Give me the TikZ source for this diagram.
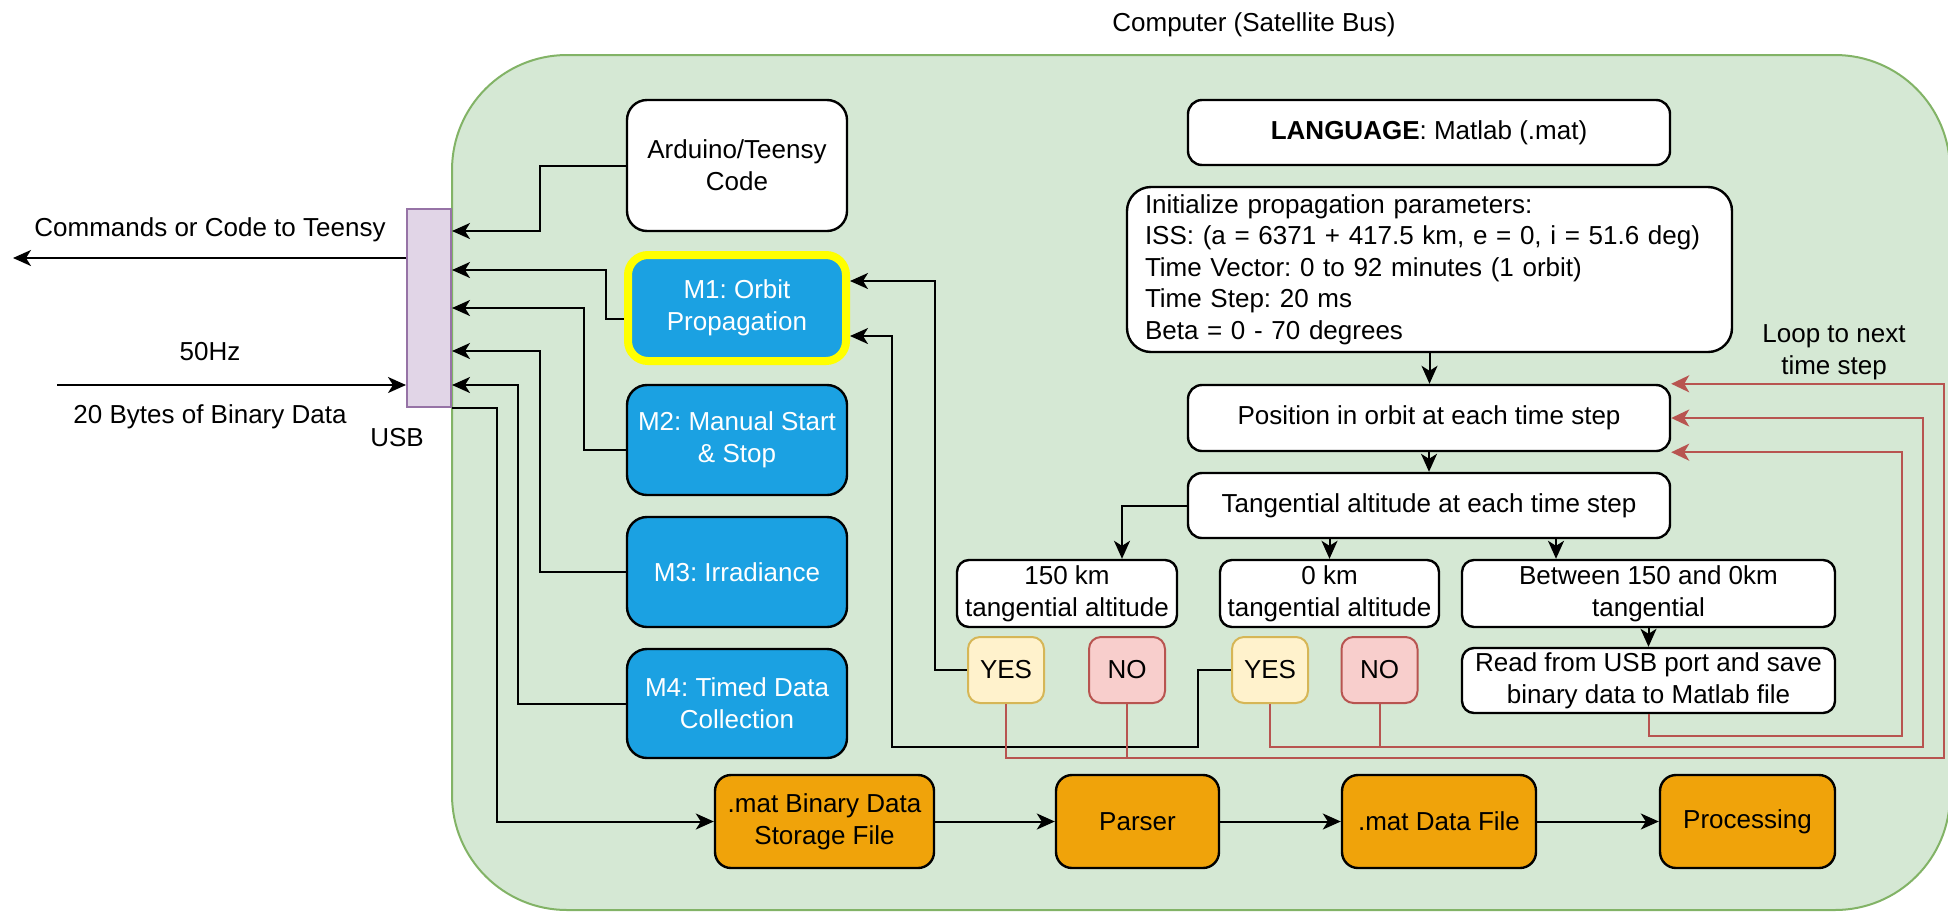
\documentclass[tikz,border=0pt]{standalone}
\usepackage{fontspec}
\setmainfont{Liberation Sans}
\usetikzlibrary{arrows.meta}
\frenchspacing

\definecolor{busfill}{HTML}{D5E8D4}
\definecolor{busline}{HTML}{82B366}
\definecolor{usbfill}{HTML}{E1D5E7}
\definecolor{usbline}{HTML}{9673A6}
\definecolor{modeblue}{HTML}{1BA1E2}
\definecolor{storeorange}{HTML}{F0A30A}
\definecolor{yesfill}{HTML}{FFF2CC}
\definecolor{yesline}{HTML}{D6B656}
\definecolor{nofill}{HTML}{F8CECC}
\definecolor{loopred}{HTML}{B85450}
\definecolor{highlight}{HTML}{FFFF00}

\begin{document}
\begin{tikzpicture}[
  x=0.5pt, y=-0.5pt,
  font=\fontsize{13}{16}\selectfont,
  box/.style={draw=black, line width=1.2pt, fill=white, rounded corners=8pt,
              inner sep=2pt, align=center},
  mode/.style={box, fill=modeblue, text=white, rounded corners=10pt,
               minimum width=110pt, minimum height=55pt},
  store/.style={box, fill=storeorange, minimum height=46.5pt, rounded corners=8pt},
  flowbox/.style={box, minimum width=241pt, minimum height=33pt, rounded corners=7pt},
  altbox/.style={box, minimum height=33.5pt, rounded corners=6pt},
  yesbox/.style={box, fill=yesfill, draw=yesline, line width=1pt,
                 minimum width=38pt, minimum height=33pt, rounded corners=6pt},
  nobox/.style={box, fill=nofill, draw=loopred, line width=1pt,
                minimum width=38pt, minimum height=33pt, rounded corners=6pt},
  conn/.style={line width=1pt, draw=black},
  arr/.style={conn, -{Stealth[length=9pt, width=8pt, inset=2.5pt]}},
  loopline/.style={line width=1pt, draw=loopred},
  looparr/.style={loopline, -{Stealth[length=9pt, width=8.5pt, inset=2.5pt]}},
  lbl/.style={inner sep=0pt, align=center}
]
\useasboundingbox (0,0) rectangle (1948,911);

% computer enclosure
\node[draw=busline, fill=busfill, line width=1pt, rounded corners=57.5pt,
      minimum width=749pt, minimum height=427.5pt, inner sep=0pt] (bus) at (1201,482.5) {};
\node[lbl] (title) at (1254,25) {Computer (Satellite Bus)};

% USB port
\node[draw=usbline, fill=usbfill, line width=1pt, minimum width=22pt,
      minimum height=99pt, inner sep=0pt] (usb) at (429,308) {};
\node[lbl] (usblbl) at (397,438) {USB};

% external link labels
\node[lbl] (cmdlbl) at (210,230) {Commands or Code to Teensy};
\node[lbl] (hzlbl) at (210,352) {50Hz};
\node[lbl] (byteslbl) at (210,417) {20 Bytes of Binary Data};
\coordinate (teensy) at (13,258);
\coordinate (sensor) at (57,385);

% modes
\node[box, rounded corners=10pt, minimum width=110pt, minimum height=65.5pt] (ard) at (737,165.5) {Arduino/Teensy\\Code};
\node[mode, draw=highlight, line width=4pt, minimum width=109pt, minimum height=53pt] (m1) at (737,308) {M1: Orbit\\Propagation};
\node[mode] (m2) at (737,440) {M2: Manual Start\\\& Stop};
\node[mode] (m3) at (737,572) {M3: Irradiance};
\node[mode, minimum height=54.5pt] (m4) at (737,703.5) {M4: Timed Data\\Collection};

% propagation flow
\node[flowbox, minimum height=32.5pt] (lang) at (1429,132.5) {\textbf{LANGUAGE}: Matlab (.mat)};
\node[box, rounded corners=12pt, minimum width=302.5pt, minimum height=82.5pt,
      text width=284.5pt, inner xsep=9pt, inner ysep=0pt, align=left,
      font=\fontsize{13}{15.75}\selectfont] (init) at (1429.5,269.5)
  {Initialize propagation parameters:\\
   ISS: (a = 6371 + 417.5 km, e = 0, i = 51.6 deg)\\
   Time Vector: 0 to 92 minutes (1 orbit)\\
   Time Step: 20 ms\\
   Beta = 0 - 70 degrees};
\node[flowbox] (pos) at (1429,418) {Position in orbit at each time step};
\node[flowbox, minimum height=32.5pt] (tang) at (1429,505.5) {Tangential altitude at each time step};
\node[altbox, minimum width=110pt] (km150) at (1067,593.5) {150 km\\tangential altitude};
\node[altbox, minimum width=109.5pt] (km0) at (1329.5,593.5) {0 km\\tangential altitude};
\node[altbox, minimum width=186.5pt] (between) at (1648.5,593.5) {Between 150 and 0km\\tangential};
\node[altbox, minimum width=186.5pt, minimum height=32.5pt] (read) at (1648.5,680.5) {Read from USB port and save\\binary data to Matlab file};
\node[yesbox] (yes1) at (1006,670) {YES};
\node[nobox] (no1) at (1127,670) {NO};
\node[yesbox] (yes2) at (1270,670) {YES};
\node[nobox] (no2) at (1379.5,670) {NO};
\node[lbl] (looplbl) at (1834,352) {Loop to next\\time step};

% data pipeline
\node[store, minimum width=109.5pt] (binfile) at (824.5,821.5) {.mat Binary Data\\Storage File};
\node[store, minimum width=81.5pt] (parser) at (1137.5,821.5) {Parser};
\node[store, minimum width=97pt] (datafile) at (1439,821.5) {.mat Data File};
\node[store, minimum width=87.5pt] (proc) at (1747.5,821.5) {Processing};

% links to and from the USB port
\draw[arr] ([yshift=25pt]usb.west) -- (teensy);
\draw[arr] (sensor) -- ([yshift=-38.5pt]usb.west);
\draw[arr] (ard.west) -| (540,231) -- ([yshift=38.5pt]usb.east);
\draw[arr] ([yshift=-5.5pt]m1.west) -| (606,270) -- ([yshift=19pt]usb.east);
\draw[arr] ([yshift=-5pt]m2.west) -| (584,308) -- (usb.east);
\draw[arr] (m3.west) -| (540,351) -- ([yshift=-21.5pt]usb.east);
\draw[arr] (m4.west) -| (518,385) -- ([yshift=-38.5pt]usb.east);
\draw[arr] (usb.south east) -- ++(45,0) |- (binfile.west);

% data pipeline links
\draw[arr] (binfile) -- (parser);
\draw[arr] (parser) -- (datafile);
\draw[arr] (datafile) -- (proc);

% propagation flow links
\draw[arr] (init.south) -- (init.south |- pos.north);
\draw[arr] (pos.south) -- (tang.north);
\draw[arr] (tang.west) -| ([xshift=27.5pt]km150.north);
\draw[arr] (tang.south -| km0.north) -- (km0.north);
\draw[arr] ([xshift=-46.25pt]between.north |- tang.south) -- ([xshift=-46.25pt]between.north);
\draw[arr] (between.south) -- (read.north);

% YES branches back to orbit propagation
\draw[arr] (yes1.west) -| (935,281) -- ([yshift=13.5pt]m1.east);
\draw[arr] (yes2.west) -| (1198,747) -| (892,336) -- ([yshift=-14pt]m1.east);

% loops to the next time step
\draw[looparr] (yes1.south) |- (1944,758) |- (pos.north east);
\draw[loopline] (no1.south) -- ++(0,55);
\draw[looparr] (yes2.south) |- (1923,747) |- (pos.east);
\draw[loopline] (no2.south) -- ++(0,44);
\draw[looparr] (read.south) |- (1902,736) |- (pos.south east);
\end{tikzpicture}
\end{document}
